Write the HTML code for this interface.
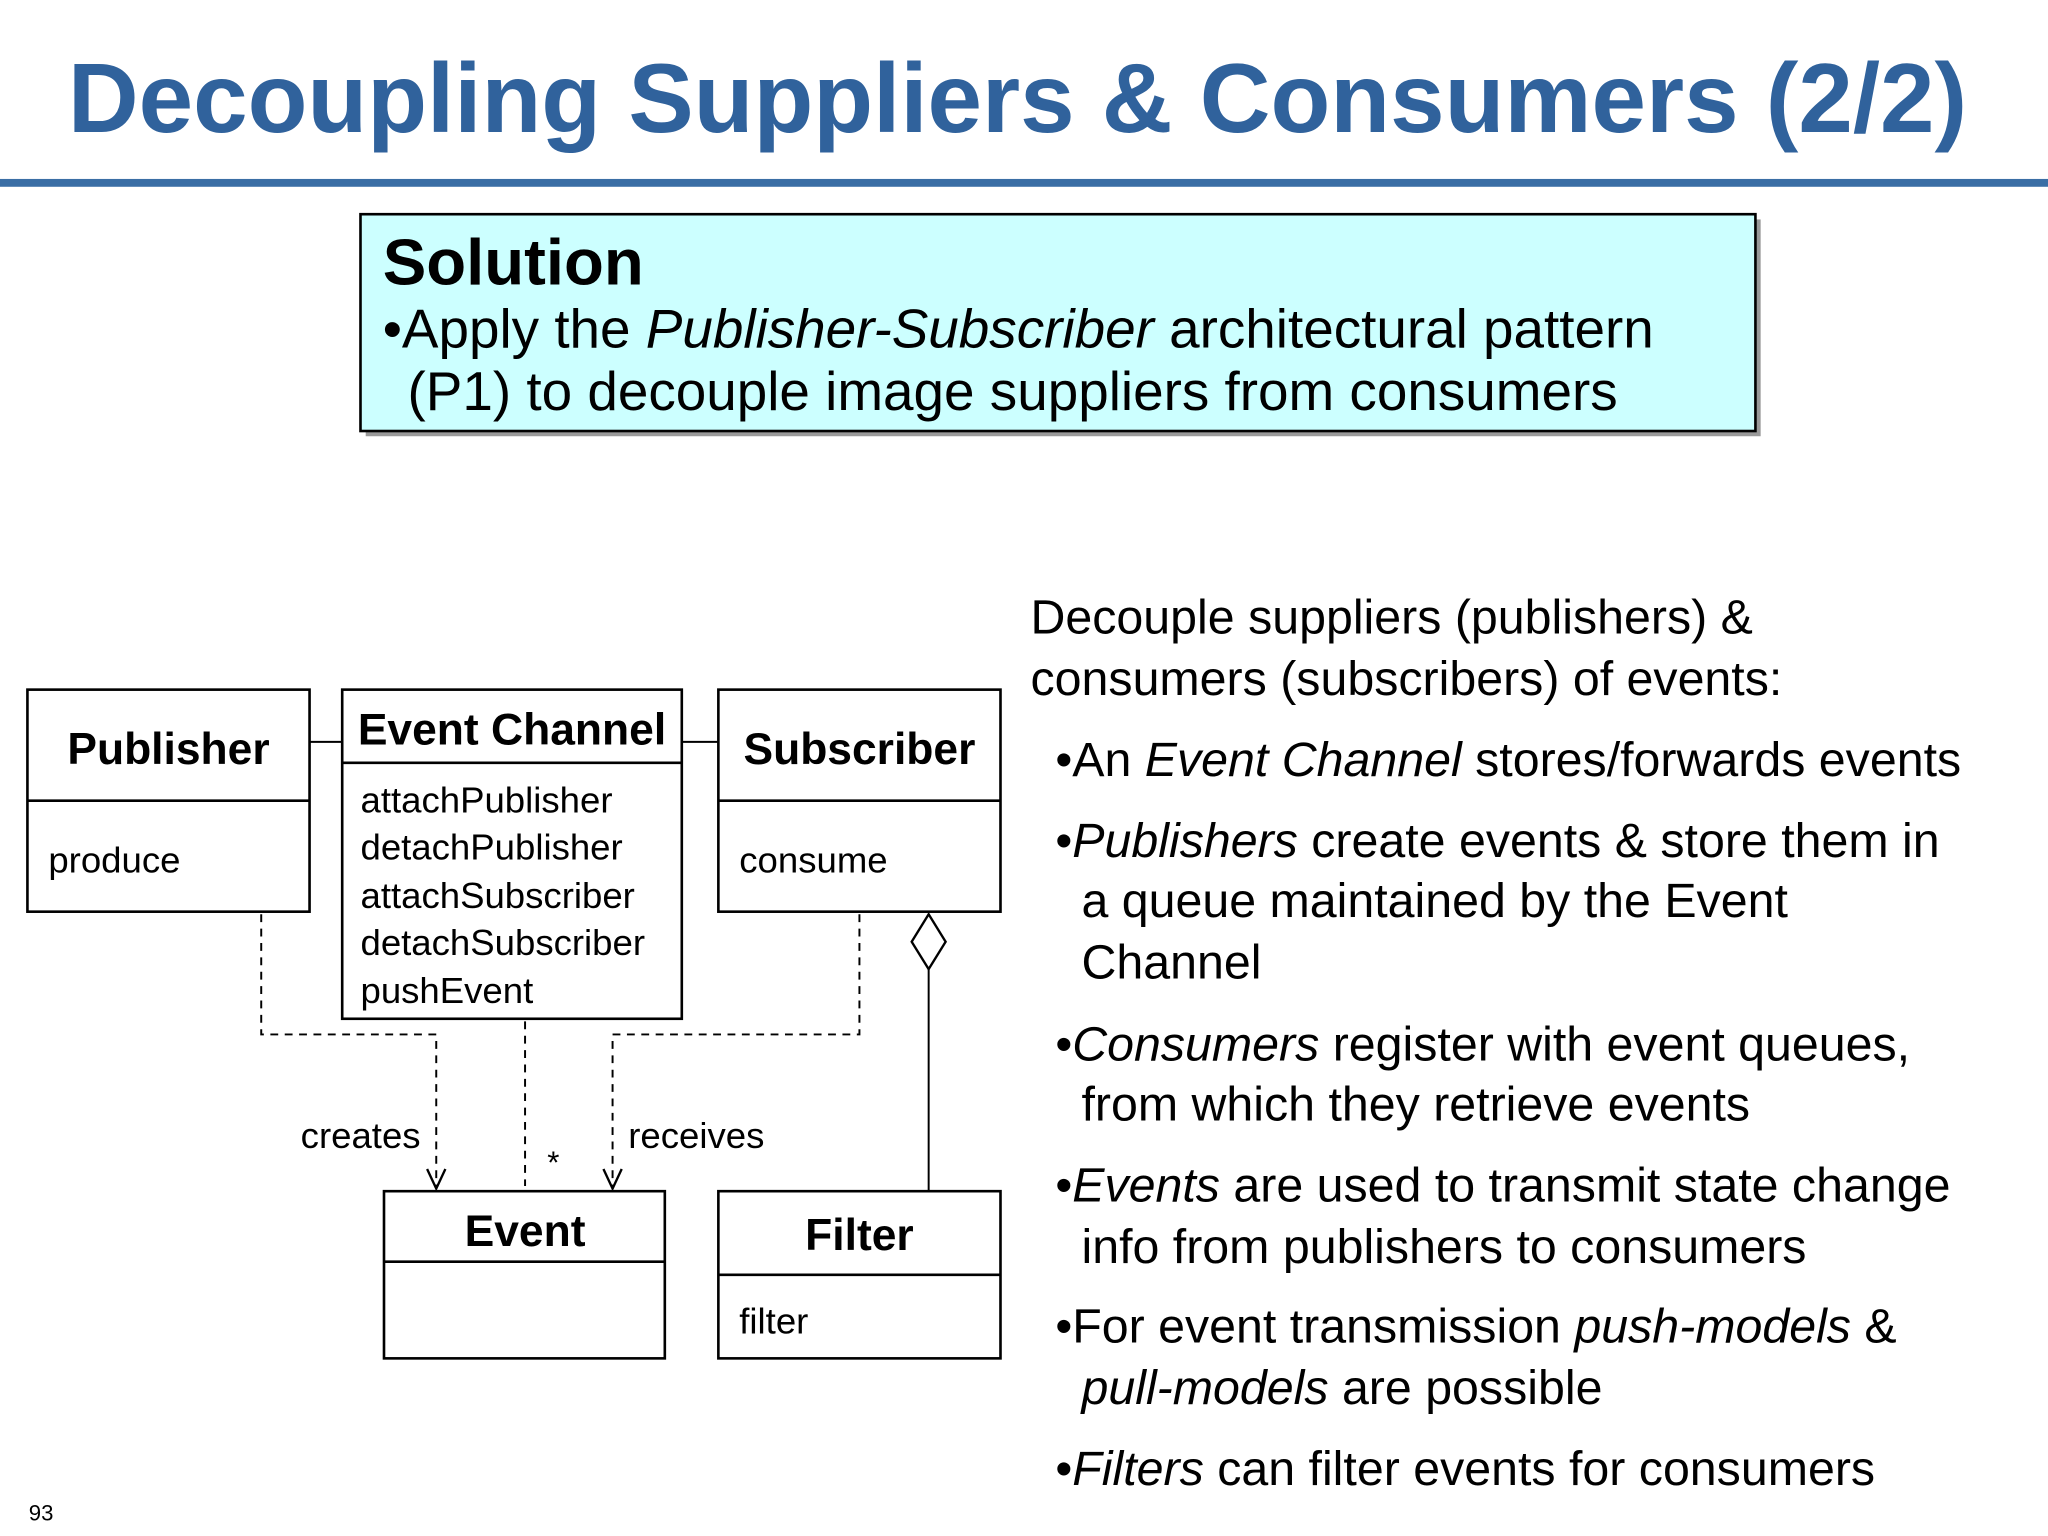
<!DOCTYPE html>
<html><head><meta charset="utf-8"><style>
html,body{margin:0;padding:0;background:#fff;}
svg{display:block}
text{font-family:"Liberation Sans",Arial,sans-serif;}
</style></head><body>
<svg width="2048" height="1536" viewBox="0 0 1568 1176" xmlns="http://www.w3.org/2000/svg">
<rect width="1568" height="1176" fill="#fff"/>
<text x="52" y="101" font-size="75" font-weight="bold" fill="#30629c">Decoupling Suppliers &amp; Consumers (2/2)</text>
<rect x="0" y="137" width="1568" height="6" fill="#3a6ea5"/>
<rect x="280" y="168" width="1068" height="166" fill="#999"/>
<rect x="276" y="164" width="1068" height="166" fill="#ccffff" stroke="#000" stroke-width="2"/>
<text x="293" y="218" font-size="50" font-weight="bold">Solution</text>
<text x="293" y="266" font-size="42">•Apply the <tspan font-style="italic">Publisher-Subscriber</tspan> architectural pattern</text>
<text x="312" y="314" font-size="42">(P1) to decouple image suppliers from consumers</text>

<g stroke="#000" stroke-width="2" fill="none">
<rect x="21" y="528" width="216" height="170"/><line x1="21" y1="613" x2="237" y2="613"/>
<rect x="262" y="528" width="260" height="252"/><line x1="262" y1="584" x2="522" y2="584"/>
<rect x="550" y="528" width="216" height="170"/><line x1="550" y1="613" x2="766" y2="613"/>
<rect x="294" y="912" width="215" height="128"/><line x1="294" y1="966" x2="509" y2="966"/>
<rect x="550" y="912" width="216" height="128"/><line x1="550" y1="976" x2="766" y2="976"/>
<line x1="237" y1="568" x2="262" y2="568" stroke-width="1.5"/>
<line x1="522" y1="568" x2="550" y2="568" stroke-width="1.5"/>
<g stroke-dasharray="6,5" stroke-width="1.5">
<polyline points="200,700 200,792 334,792 334,908"/>
<line x1="402" y1="782" x2="402" y2="908"/>
<polyline points="658,700 658,792 469,792 469,908"/>
</g>
<polyline points="327,895 334,910 341,895" stroke-width="1.8"/>
<polyline points="462,895 469,910 476,895" stroke-width="1.8"/>
<polygon points="711,700 724,721 711,742 698,721" fill="#fff" stroke-width="1.8"/>
<line x1="711" y1="742" x2="711" y2="912" stroke-width="1.5"/>
</g>
<text x="129" y="585" font-size="34" font-weight="bold" text-anchor="middle">Publisher</text>
<text x="37" y="668" font-size="28">produce</text>
<text x="392" y="570" font-size="34" font-weight="bold" text-anchor="middle">Event Channel</text>
<g font-size="28"><text x="276" y="622">attachPublisher</text><text x="276" y="658">detachPublisher</text><text x="276" y="695">attachSubscriber</text><text x="276" y="731">detachSubscriber</text><text x="276" y="768">pushEvent</text></g>
<text x="658" y="585" font-size="34" font-weight="bold" text-anchor="middle">Subscriber</text>
<text x="566" y="668" font-size="28">consume</text>
<text x="402" y="954" font-size="34" font-weight="bold" text-anchor="middle">Event</text>
<text x="658" y="957" font-size="34" font-weight="bold" text-anchor="middle">Filter</text>
<text x="566" y="1021" font-size="28">filter</text>
<text x="322" y="879" font-size="28" text-anchor="end">creates</text>
<text x="419" y="898" font-size="24">*</text>
<text x="481" y="879" font-size="28">receives</text>

<g font-size="37">
<text x="789" y="485">Decouple suppliers (publishers) &amp;</text>
<text x="789" y="532">consumers (subscribers) of events:</text>
<text x="808" y="594">•An <tspan font-style="italic">Event Channel</tspan> stores/forwards events</text>
<text x="808" y="656">•<tspan font-style="italic">Publishers</tspan> create events &amp; store them in</text>
<text x="828" y="702">a queue maintained by the Event</text>
<text x="828" y="749">Channel</text>
<text x="808" y="812">•<tspan font-style="italic">Consumers</tspan> register with event queues,</text>
<text x="828" y="858">from which they retrieve events</text>
<text x="808" y="920">•<tspan font-style="italic">Events</tspan> are used to transmit state change</text>
<text x="828" y="967">info from publishers to consumers</text>
<text x="808" y="1028">•For event transmission <tspan font-style="italic">push-models</tspan> &amp;</text>
<text x="828" y="1075"><tspan font-style="italic">pull-models</tspan> are possible</text>
<text x="808" y="1137">•<tspan font-style="italic">Filters</tspan> can filter events for consumers</text>
</g>
<text x="22" y="1164" font-size="17">93</text>
</svg>
</body></html>
